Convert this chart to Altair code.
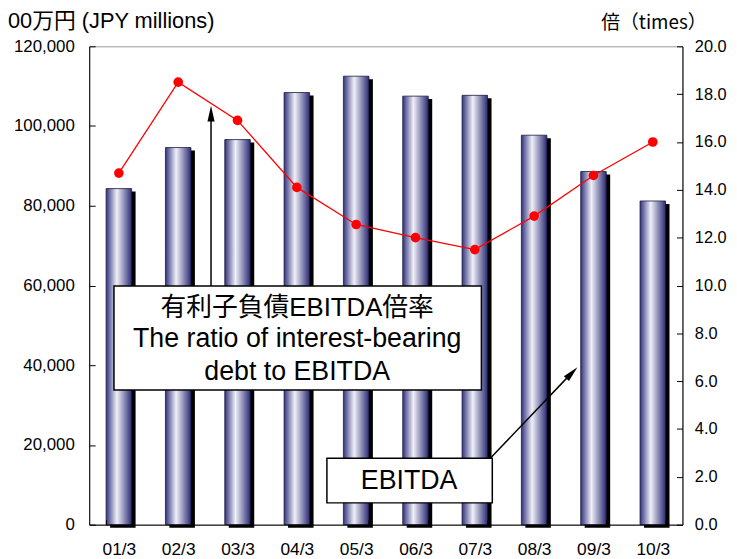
import altair as alt
import pandas as pd

periods = ["01/3", "02/3", "03/3", "04/3", "05/3", "06/3", "07/3", "08/3", "09/3", "10/3"]
ebitda = [84300, 94600, 96600, 108400, 112500, 107500, 107700, 97700, 88600, 81200]
ratio = [14.7, 18.5, 16.9, 14.1, 12.55, 12.0, 11.5, 12.9, 14.6, 16.0]

left_ticks = [0, 20000, 40000, 60000, 80000, 100000, 120000]
right_ticks = [0, 2, 4, 6, 8, 10, 12, 14, 16, 18, 20]

left_title = "00万円 (JPY millions)"
right_title = "倍（times）"
box1_lines = ["有利子負債EBITDA倍率", "The ratio of interest-bearing", "debt to EBITDA"]
box2_text = "EBITDA"

df = pd.DataFrame({"period": periods, "ebitda": ebitda, "ratio": ratio})
one = pd.DataFrame({"k": [0]})

W, H = 599, 483
SANS = "Liberation Sans, Noto Sans CJK JP, sans-serif"

x_enc = alt.X(
    "period:N", sort=periods,
    scale=alt.Scale(paddingInner=0.57, paddingOuter=0.285),
    axis=alt.Axis(title=None, labelAngle=0, labelFont=SANS, labelFontSize=17.5,
                  labelColor="black", labelPadding=21, tickBand="extent",
                  tickSize=alt.ExprRef(expr="-5"), tickColor="black",
                  domainColor="black", domainWidth=1, zindex=1),
)

yL = alt.Y(
    "ebitda:Q", scale=alt.Scale(domain=[0, 120000], nice=False),
    axis=alt.Axis(title=None, values=left_ticks, format=",.0f", grid=False,
                  labelFont=SANS, labelFontSize=17, labelColor="black",
                  labelPadding=21, tickSize=alt.ExprRef(expr="-6"),
                  tickColor="black", domainColor="black", zindex=1),
)

yR = alt.Y(
    "ratio:Q", scale=alt.Scale(domain=[0, 20], nice=False),
    axis=alt.Axis(title=None, orient="right", values=right_ticks, format=".1f",
                  grid=False, labelFont=SANS, labelFontSize=16.5,
                  labelColor="black", labelPadding=18,
                  tickSize=alt.ExprRef(expr="-6"), tickColor="black",
                  domainColor="black", zindex=1),
)

grad = alt.Gradient(
    gradient="linear", x1=0, x2=1, y1=0, y2=0,
    stops=[alt.GradientStop(offset=0, color="#33337e"),
           alt.GradientStop(offset=0.42, color="#f0f0f8"),
           alt.GradientStop(offset=1, color="#2c2c76")],
)

base = alt.Chart(df)
shadow = base.mark_bar(color="black", xOffset=4, yOffset=3).encode(x=x_enc, y=yL)
bars = base.mark_bar(color=grad, stroke="#1a1a40", strokeWidth=0.8).encode(x=x_enc, y=yL)
left = alt.layer(shadow, bars)

line = base.mark_line(color="#ff0000", strokeWidth=1.3).encode(x=x_enc, y=yR)
pts = base.mark_point(filled=True, size=95, color="#ff0000", opacity=1).encode(x=x_enc, y=yR)
right = alt.layer(line, pts)

ann = alt.Chart(one)

def txt(s, x, y, size, font=SANS, align="center", baseline="middle"):
    return ann.mark_text(text=s, font=font, fontSize=size, color="black",
                         align=align, baseline=baseline).encode(
        x=alt.value(x), y=alt.value(y))

title_l = txt(left_title, -82, -18, 22, align="left", baseline="alphabetic")
title_r = txt(right_title, 517, -23, 19, font="Noto Sans CJK JP, sans-serif",
              align="left", baseline="middle")

# arrows
arrow1 = ann.mark_rule(color="black", strokeWidth=1.5).encode(
    x=alt.value(123), x2=alt.value(123), y=alt.value(242), y2=alt.value(68))
head1 = ann.mark_point(shape="M0,-1L0.45,1L-0.45,1Z", filled=True, color="black",
                       opacity=1, size=256, angle=0).encode(
    x=alt.value(123), y=alt.value(68))
arrow2 = ann.mark_rule(color="black", strokeWidth=1.5).encode(
    x=alt.value(405), x2=alt.value(487), y=alt.value(416), y2=alt.value(330))
head2 = ann.mark_point(shape="M0,-1L0.45,1L-0.45,1Z", filled=True, color="black",
                       opacity=1, size=256, angle=44).encode(
    x=alt.value(487.4), y=alt.value(329.8))

box1 = ann.mark_rect(fill="white", stroke="black", strokeWidth=1.5).encode(
    x=alt.value(25), x2=alt.value(396), y=alt.value(242), y2=alt.value(347))
box2 = ann.mark_rect(fill="white", stroke="black", strokeWidth=1.5).encode(
    x=alt.value(240), x2=alt.value(407), y=alt.value(416), y2=alt.value(461))

t1 = txt(box1_lines[0], 210, 264, 26)
t2 = txt(box1_lines[1], 210, 296, 27)
t3 = txt(box1_lines[2], 210, 329, 27)
t4 = txt(box2_text, 323, 439, 27)

chart = alt.layer(
    left, right, arrow1, head1, arrow2, head2, box1, box2, t1, t2, t3, t4,
    title_l, title_r,
).resolve_scale(y="independent").properties(
    width=W, height=H,
    padding={"left": 82, "top": 36, "right": 47, "bottom": 32},
    autosize=alt.AutoSizeParams(type="none"),
).configure_view(stroke="#9a9a9a", strokeWidth=1)

chart.save("out.html", embed_options={"renderer": "svg", "actions": False})
